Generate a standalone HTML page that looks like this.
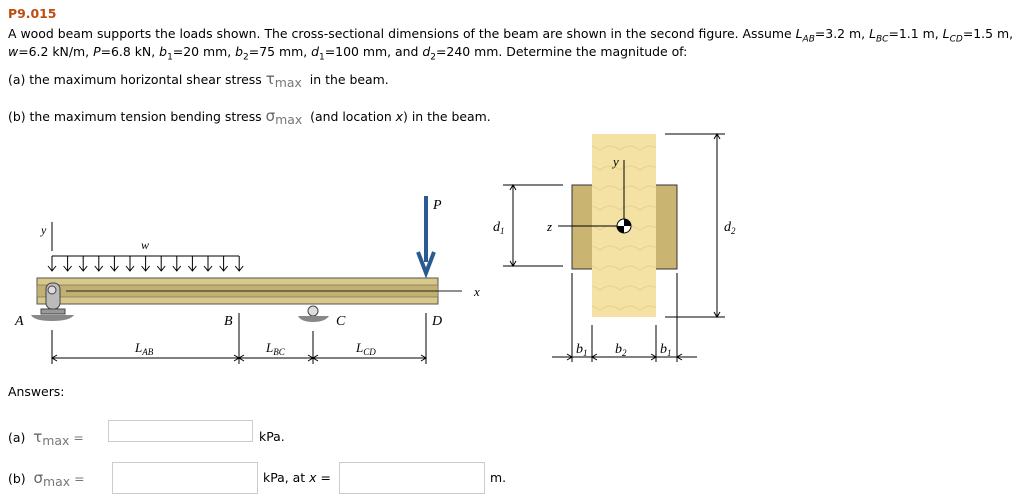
<!DOCTYPE html>
<html><head><meta charset="utf-8"><style>
body{margin:0;width:1024px;height:503px;background:#fff;position:relative;overflow:hidden;font-family:"DejaVu Sans",Verdana,sans-serif;font-size:12.45px;color:#000}
.t{position:absolute;white-space:nowrap}
.box{position:absolute;border:1px solid #ccc;background:#fff}
.g{color:#777}
.sym{font-size:15px;color:#666}
svg text{font-family:"Liberation Serif",serif;font-style:italic}
</style></head><body>
<div class="t" style="left:8px;top:6px;color:#c04b0f;font-weight:bold">P9.015</div>
<div class="t" style="left:8px;top:26px">A wood beam supports the loads shown. The cross-sectional dimensions of the beam are shown in the second figure. Assume <i>L<sub style="font-size:9px">AB</sub></i>=3.2 m, <i>L<sub style="font-size:9px">BC</sub></i>=1.1 m, <i>L<sub style="font-size:9px">CD</sub></i>=1.5 m,</div>
<div class="t" style="left:8px;top:44px"><i>w</i>=6.2 kN/m, <i>P</i>=6.8 kN, <i>b</i><sub style="font-size:9px">1</sub>=20 mm, <i>b</i><sub style="font-size:9px">2</sub>=75 mm, <i>d</i><sub style="font-size:9px">1</sub>=100 mm, and <i>d</i><sub style="font-size:9px">2</sub>=240 mm. Determine the magnitude of:</div>
<div class="t" style="left:8px;top:70px">(a) the maximum horizontal shear stress <span class="sym">τ</span><span class="g" style="position:relative;top:3px">max</span>&nbsp; in the beam.</div>
<div class="t" style="left:8px;top:107px">(b) the maximum tension bending stress <span class="sym">σ</span><span class="g" style="position:relative;top:3px">max</span>&nbsp; (and location <i>x</i>) in the beam.</div>

<svg width="1024" height="503" style="position:absolute;left:0;top:0" xmlns="http://www.w3.org/2000/svg">
<rect x="37" y="278" width="401" height="26" fill="#d8c98a" stroke="#555"/>
<rect x="37" y="285" width="401" height="12" fill="#c2b070" stroke="#666" stroke-width="0.6"/>
<line x1="66" y1="291" x2="462" y2="291" stroke="#222"/>
<line x1="52" y1="256" x2="239" y2="256" stroke="#000"/>
<g id="ar" stroke="#000" fill="none"></g>
<line x1="52" y1="222" x2="52" y2="251" stroke="#000"/>
<text x="41" y="234" font-size="12">y</text>
<text x="141" y="249" font-size="12">w</text>
<line x1="426" y1="196" x2="426" y2="262" stroke="#2a5a92" stroke-width="4"/>
<path d="M418 252 L426 273 L434 252" stroke="#2a5a92" stroke-width="4" fill="none"/>
<text x="433" y="209" font-size="14">P</text>
<text x="474" y="296" font-size="13">x</text>
<rect x="46" y="283" width="14" height="26" rx="6" fill="#bbb" stroke="#444"/>
<circle cx="52" cy="290" r="4" fill="#ddd" stroke="#444"/>
<rect x="41" y="309" width="24" height="5" fill="#999" stroke="#444"/>
<path d="M31 315 H74 Q70 321 52 321 Q34 321 31 315Z" fill="#888"/>
<text x="15" y="325" font-size="14">A</text>
<circle cx="313" cy="311" r="5" fill="#ddd" stroke="#444"/>
<path d="M298 316 H329 Q325 322 313 322 Q301 322 298 316Z" fill="#888"/>
<text x="336" y="325" font-size="14">C</text>
<text x="224" y="325" font-size="14">B</text>
<text x="432" y="325" font-size="14">D</text>
<g stroke="#000" stroke-width="1" fill="none">
<line x1="52" y1="330" x2="52" y2="364"/>
<line x1="239" y1="313" x2="239" y2="364"/>
<line x1="313" y1="331" x2="313" y2="364"/>
<line x1="426" y1="313" x2="426" y2="364"/>
<line x1="52" y1="358" x2="426" y2="358"/>
<path d="M57 355l-5 3 5 3M234 355l5 3-5 3M244 355l-5 3 5 3M308 355l5 3-5 3M318 355l-5 3 5 3M421 355l5 3-5 3"/>
</g>
<text x="135" y="352" font-size="13">L<tspan font-size="9" dy="3">AB</tspan></text>
<text x="266" y="352" font-size="13">L<tspan font-size="9" dy="3">BC</tspan></text>
<text x="356" y="352" font-size="13">L<tspan font-size="9" dy="3">CD</tspan></text>
<defs>
<pattern id="wg" width="20" height="20" patternUnits="userSpaceOnUse"><rect width="20" height="20" fill="#f3e2a4"/><path d="M0 10 Q10 2 20 10" stroke="#e6d088" fill="none"/></pattern>
</defs>
<rect x="572" y="185" width="105" height="84" fill="#c9b472" stroke="#333"/>
<rect x="592" y="134" width="64" height="183" fill="url(#wg)"/>
<line x1="624" y1="160" x2="624" y2="226" stroke="#000"/>
<line x1="558" y1="226" x2="624" y2="226" stroke="#000"/>
<circle cx="624" cy="226" r="7" fill="#fff" stroke="#000"/>
<path d="M624 219 A7 7 0 0 1 631 226 H624Z M624 233 A7 7 0 0 1 617 226 H624Z" fill="#000"/>
<text x="613" y="166" font-size="13">y</text>
<text x="547" y="231" font-size="13">z</text>
<g stroke="#000" fill="none">
<line x1="503" y1="185" x2="563" y2="185"/><line x1="503" y1="266" x2="563" y2="266"/>
<line x1="513" y1="185" x2="513" y2="266"/>
<path d="M510 190l3-5 3 5M510 261l3 5 3-5M714 139l3-5 3 5M714 312l3 5 3-5"/>
<line x1="665" y1="134" x2="725" y2="134"/><line x1="665" y1="317" x2="725" y2="317"/>
<line x1="717" y1="134" x2="717" y2="317"/>
<line x1="572" y1="273" x2="572" y2="362"/><line x1="592" y1="325" x2="592" y2="362"/>
<line x1="656" y1="325" x2="656" y2="362"/><line x1="677" y1="273" x2="677" y2="362"/>
<line x1="552" y1="357" x2="697" y2="357"/>
<path d="M567 354l5 3-5 3M597 354l-5 3 5 3M651 354l5 3-5 3M682 354l-5 3 5 3"/>
</g>
<text x="493" y="231" font-size="14">d<tspan font-size="9" dy="3">1</tspan></text>
<text x="724" y="231" font-size="14">d<tspan font-size="9" dy="3">2</tspan></text>
<text x="576" y="353" font-size="14">b<tspan font-size="9" dy="3">1</tspan></text>
<text x="615" y="353" font-size="14">b<tspan font-size="9" dy="3">2</tspan></text>
<text x="660" y="353" font-size="14">b<tspan font-size="9" dy="3">1</tspan></text>
</svg>
<script>
var g=document.getElementById('ar'),s='';
for(var i=0;i<13;i++){var x=52+i*15.6;s+='<path d="M'+x+' 256v15M'+(x+4)+' 266l-4 5-4-5"/>';}
g.innerHTML=s;
</script>

<div class="t" style="left:8px;top:384px">Answers:</div>
<div class="t" style="left:8px;top:428px">(a)&nbsp; <span class="sym">τ</span><span class="g" style="position:relative;top:3px">max</span> <span class="g">=</span></div>
<div class="box" style="left:108px;top:420px;width:143px;height:20px"></div>
<div class="t" style="left:259px;top:429px">kPa.</div>
<div class="t" style="left:8px;top:469px">(b)&nbsp; <span class="sym">σ</span><span class="g" style="position:relative;top:3px">max</span> <span class="g">=</span></div>
<div class="box" style="left:112px;top:462px;width:144px;height:30px"></div>
<div class="t" style="left:263px;top:470px">kPa, at <i>x</i> =</div>
<div class="box" style="left:339px;top:462px;width:144px;height:30px"></div>
<div class="t" style="left:490px;top:470px">m.</div>
</body></html>
